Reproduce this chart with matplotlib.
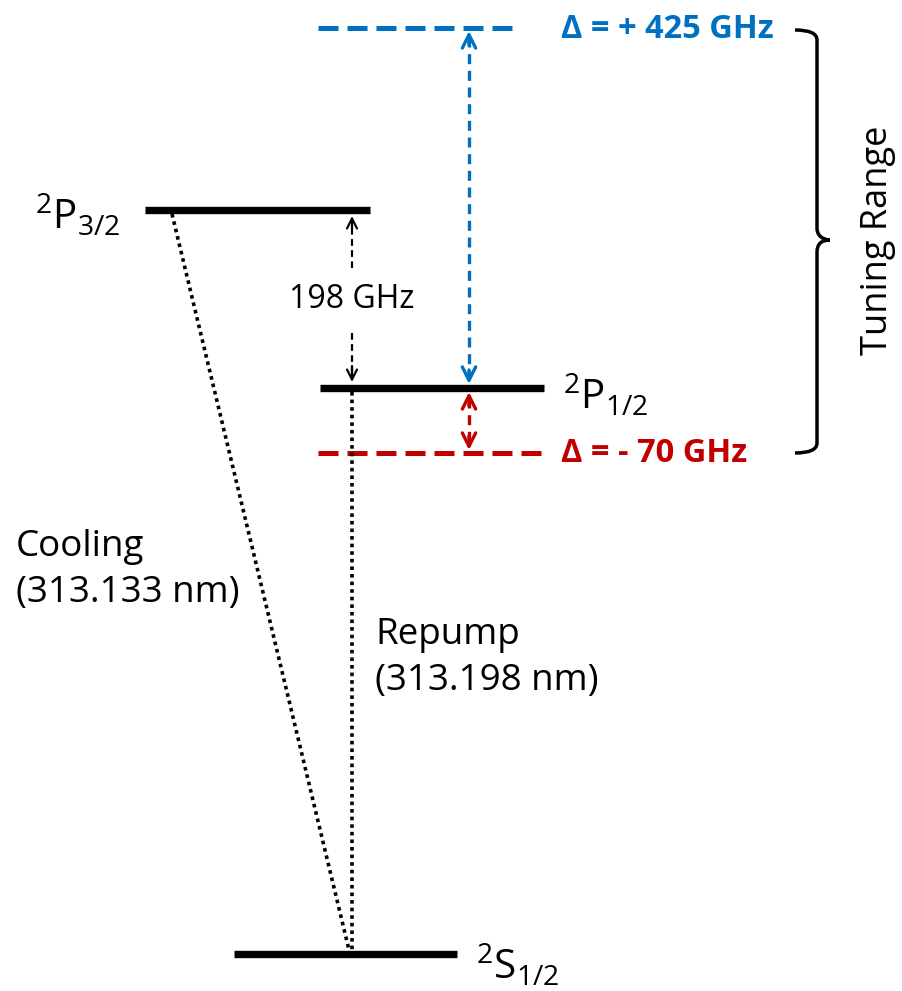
import matplotlib
matplotlib.use("Agg")
import matplotlib.pyplot as plt
from matplotlib.path import Path
from matplotlib.patches import PathPatch, FancyArrowPatch

plt.rcParams["font.family"] = ["Open Sans", "DejaVu Sans"]
plt.rcParams["mathtext.fontset"] = "custom"
plt.rcParams["mathtext.rm"] = "Open Sans"
plt.rcParams["mathtext.it"] = "Open Sans:italic"

BLAU = "#0070C0"
ROT = "#C00000"

# Niveaus (Diagramm-Koordinaten in Pixeln, y nach unten)
niveau_namen = ["P32", "P12", "S12"]
niveau_label = [r"$^{2}\mathrm{P}_{3/2}$", r"$^{2}\mathrm{P}_{1/2}$", r"$^{2}\mathrm{S}_{1/2}$"]
niveau_y = [210, 388, 954]
niveau_x0 = [145, 320, 234]
niveau_x1 = [370, 544, 457]

# Verstimmungen
verstimmung_ghz = [425, -70]
verstimmung_y = [28, 453]
verstimmung_farbe = [BLAU, ROT]

feinstruktur_ghz = 198
wellenlaengen_nm = {"Cooling": 313.133, "Repump": 313.198}

fig = plt.figure(figsize=(9.03, 9.91), dpi=100)
ax = fig.add_axes([0, 0, 1, 1])
ax.set_xlim(0, 903)
ax.set_ylim(991, 0)
ax.axis("off")

# Energieniveaus
for y, x0, x1 in zip(niveau_y, niveau_x0, niveau_x1):
    ax.plot([x0, x1], [y, y], color="black", linewidth=5.3, solid_capstyle="butt")

ax.text(35, niveau_y[0] + 6, niveau_label[0], fontsize=29, ha="left", va="center")
ax.text(563, niveau_y[1] + 8, niveau_label[1], fontsize=29, ha="left", va="center")
ax.text(476, niveau_y[2] + 12, niveau_label[2], fontsize=29, ha="left", va="center")

# Verstimmte Laserlinien
for ghz, y, farbe in zip(verstimmung_ghz, verstimmung_y, verstimmung_farbe):
    ax.plot([318, 544 if ghz < 0 else 514], [y, y], color=farbe, linewidth=3.6,
            linestyle=(0, (4, 1.8)), dash_capstyle="butt")
    vorzeichen = "+" if ghz > 0 else "-"
    ax.text(561, y + 1, "\u0394 = %s %d GHz" % (vorzeichen, abs(ghz)), color=farbe,
            fontsize=23.5, fontweight="bold", ha="left", va="center")


def doppelpfeil(x, y0, y1, farbe, lw, kopf=18):
    ax.plot([x, x], [y0 + 6, y1 - 6], color=farbe, linewidth=lw,
            linestyle=(0, (3, 2)), dash_capstyle="butt")
    for start, ende in [((x, y0 + 14), (x, y0)), ((x, y1 - 14), (x, y1))]:
        ax.add_patch(FancyArrowPatch(start, ende, arrowstyle="->", mutation_scale=kopf,
                                     color=farbe, linewidth=lw, shrinkA=0, shrinkB=0))


doppelpfeil(469, verstimmung_y[0] + 3, niveau_y[1] - 4, BLAU, 2.4, 24)
doppelpfeil(469, niveau_y[1] + 4, verstimmung_y[1] - 3, ROT, 2.4, 24)

# 198 GHz Feinstruktur
x_fs = 352
ax.plot([x_fs, x_fs], [228, 268], color="black", linewidth=1.6, linestyle=(0, (3, 2)))
ax.add_patch(FancyArrowPatch((x_fs, 228), (x_fs, niveau_y[0] + 6), arrowstyle="->",
                             mutation_scale=18, color="black", linewidth=1.6, shrinkA=0, shrinkB=0))
ax.plot([x_fs, x_fs], [333, 372], color="black", linewidth=1.6, linestyle=(0, (3, 2)))
ax.add_patch(FancyArrowPatch((x_fs, 366), (x_fs, niveau_y[1] - 6), arrowstyle="->",
                             mutation_scale=18, color="black", linewidth=1.6, shrinkA=0, shrinkB=0))
ax.text(x_fs, 300, "%d GHz" % feinstruktur_ghz, fontsize=23, ha="center", va="center")

# Übergänge
ax.plot([172, 349], [niveau_y[0] + 4, niveau_y[2] - 4], color="black", linewidth=2.6,
        linestyle=(0, (1, 1.1)))
ax.plot([352, 352], [niveau_y[1] + 4, niveau_y[2] - 4], color="black", linewidth=2.6,
        linestyle=(0, (1, 1.1)))

ax.text(16, 570, "Cooling\n(%.3f nm)" % wellenlaengen_nm["Cooling"], fontsize=26.5,
        ha="left", va="center", linespacing=1.35)
ax.text(375, 658, "Repump\n(%.3f nm)" % wellenlaengen_nm["Repump"], fontsize=26.5,
        ha="left", va="center", linespacing=1.35)

# Geschweifte Klammer
oben, mitte, unten = verstimmung_y[0] + 2, 240, verstimmung_y[1]
xl, xs, xt = 795, 817, 830
verts = [
    (xl, oben), (xs, oben), (xs, oben + 10),
    (xs, mitte - 12),
    (xs, mitte), (xt, mitte), (xt, mitte),
    (xs, mitte), (xs, mitte + 12),
    (xs, unten - 10),
    (xs, unten), (xl, unten),
]
codes = [Path.MOVETO, Path.CURVE3, Path.CURVE3, Path.LINETO,
         Path.CURVE4, Path.CURVE4, Path.CURVE4,
         Path.CURVE3, Path.CURVE3, Path.LINETO,
         Path.CURVE3, Path.CURVE3]
ax.add_patch(PathPatch(Path(verts, codes), facecolor="none", edgecolor="black", linewidth=2.5))
ax.text(878, 240, "Tuning Range", fontsize=26, rotation=90, ha="center", va="center")

fig.savefig("out.png", dpi=100)
